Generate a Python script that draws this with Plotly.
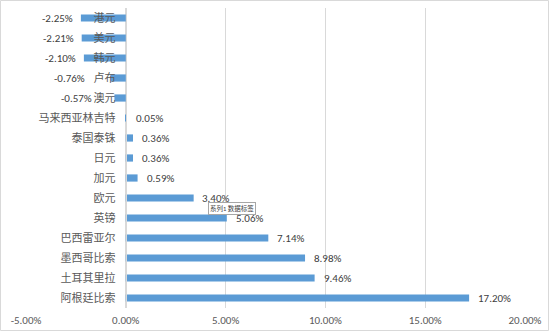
import plotly.graph_objects as go

# Currency performance versus RMB
currencies = ["港元", "美元", "韩元", "卢布", "澳元", "马来西亚林吉特", "泰国泰铢", "日元",
              "加元", "欧元", "英镑", "巴西雷亚尔", "墨西哥比索", "土耳其里拉", "阿根廷比索"]
changes = [-2.25, -2.21, -2.10, -0.76, -0.57, 0.05, 0.36, 0.36,
           0.59, 3.40, 5.06, 7.14, 8.98, 9.46, 17.20]
# pixel gap between bar end and its value label
label_gaps = [6, 6, 6, 24, 20, 7, 7, 7, 7, 6, 7, 7, 7, 7, 7]
x_ticks = [-5, 0, 5, 10, 15, 20]
x_tick_labels = ["-5.00%", "0.00%", "5.00%", "10.00%", "15.00%", "20.00%"]

W, H = 550, 332
ML, MR, MT, MB = 26, 25, 8, 24
XMIN, XMAX = -5, 20

FONT = "Calibri, Carlito, 'Noto Sans CJK SC', sans-serif"
GRAY = "#595959"

fig = go.Figure(go.Bar(
    x=changes,
    y=currencies,
    orientation="h",
    marker=dict(color="#5B9BD5", line=dict(width=0)),
    width=0.36,
    hoverinfo="x+y",
))

# value labels at the end of each bar
for cat, val, gap in zip(currencies, changes, label_gaps):
    fig.add_annotation(
        x=val, y=cat, xref="x", yref="y",
        text=f"{val:.2f}%",
        showarrow=False,
        xanchor="left" if val >= 0 else "right",
        xshift=gap if val >= 0 else -gap,
        font=dict(family=FONT, size=11, color="#404040"),
    )

# Category axis sits at x = 0
zero_pos = (0 - XMIN) / (XMAX - XMIN)

fig.update_layout(
    width=W, height=H,
    margin=dict(l=ML, r=MR, t=MT, b=MB, autoexpand=False),
    paper_bgcolor="white",
    plot_bgcolor="white",
    showlegend=False,
    font=dict(family=FONT, size=11, color=GRAY),
    xaxis=dict(
        range=[XMIN, XMAX],
        tickvals=x_ticks,
        ticktext=x_tick_labels,
        showgrid=True,
        gridcolor="#D9D9D9",
        gridwidth=1,
        zeroline=False,
        showline=False,
        ticks="",
        automargin=False,
        tickfont=dict(family=FONT, size=11, color=GRAY),
        ticklabelstandoff=4,
    ),
    yaxis=dict(
        categoryorder="array",
        categoryarray=currencies,
        autorange="reversed",
        anchor="free",
        position=zero_pos,
        showline=True,
        linecolor="#D9D9D9",
        linewidth=1,
        showgrid=False,
        ticks="",
        automargin=False,
        tickfont=dict(family=FONT, size=11, color=GRAY),
        ticklabelstandoff=8,
    ),
)

# Chart border around the whole figure
pw = W - ML - MR
ph = H - MT - MB
fig.add_shape(
    type="rect", xref="paper", yref="paper",
    x0=(0.5 - ML) / pw, x1=(W - 1.5 - ML) / pw,
    y0=-(MB - 1.5) / ph, y1=1 + (MT - 0.5) / ph,
    line=dict(color="#D9D9D9", width=1),
    fillcolor="rgba(0,0,0,0)",
    layer="below",
)

# Data-label hover note
fig.add_annotation(
    x=5.3, y=9.5, xref="x", yref="y",
    text="系列1 数据标签",
    showarrow=False,
    font=dict(family=FONT, size=6.5, color="#404040"),
    bgcolor="white",
    bordercolor="#A6A6A6",
    borderwidth=1,
    borderpad=1,
)

fig.write_html("out.html")
